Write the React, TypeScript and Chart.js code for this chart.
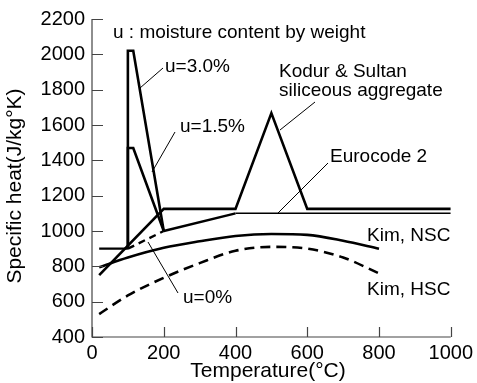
import React, { useEffect, useRef } from "react";
import { Chart, registerables } from "chart.js";

Chart.register(...registerables);

const FONT = '"Liberation Sans", Arial, Helvetica, sans-serif';

// Eurocode 2 (u = 0%)
const eurocodeT = [20, 100, 200, 400, 1000];
const eurocodeCp = [900, 900, 1000, 1100, 1100];
// Eurocode 2 moisture peaks
const u15T = [100, 100, 115, 200];
const u15Cp = [900, 1470, 1470, 1000];
const u30T = [100, 100, 115, 200];
const u30Cp = [900, 2020, 2020, 1000];
// Kodur & Sultan, siliceous aggregate
const kodurT = [20, 200, 400, 500, 600, 1000];
const kodurCp = [750, 1125, 1125, 1667, 1125, 1125];
// Kim
const kimT = [20, 100, 200, 300, 400, 500, 600, 700, 800];
const kimNSC = [795, 850, 905, 942, 972, 983, 978, 945, 900];
const kimHSC = [530, 635, 735, 818, 888, 910, 900, 850, 760];

const xTicks = [0, 200, 400, 600, 800, 1000];
const yTicks = [400, 600, 800, 1000, 1200, 1400, 1600, 1800, 2000, 2200];

const toPts = (xs: number[], ys: number[]) => xs.map((x, i) => ({ x, y: ys[i] }));

const annotations = [
  { text: "u : moisture content by weight", x: 113, y: 38 },
  { text: "u=3.0%", x: 165, y: 72 },
  { text: "u=1.5%", x: 180, y: 132 },
  { text: "Kodur & Sultan", x: 279, y: 77 },
  { text: "siliceous aggregate", x: 279, y: 96 },
  { text: "Eurocode 2", x: 330, y: 162 },
  { text: "Kim, NSC", x: 367, y: 241 },
  { text: "Kim, HSC", x: 367, y: 295 },
  { text: "u=0%", x: 183, y: 303 },
];

const leaders = [
  [163, 68, 140, 88],
  [175, 132, 152, 172],
  [315, 102, 280, 130],
  [328, 163, 278, 213],
  [178, 293, 148, 242],
];

const decoPlugin = {
  id: "deco",
  afterDraw(chart: any) {
    const ctx = chart.ctx;
    const xs = chart.scales.x;
    const ys = chart.scales.y;
    const { left, right, top, bottom } = chart.chartArea;
    ctx.save();
    // axes
    ctx.strokeStyle = "#444";
    ctx.lineWidth = 1.2;
    ctx.beginPath();
    ctx.moveTo(left, top);
    ctx.lineTo(left, bottom);
    ctx.lineTo(right, bottom);
    ctx.stroke();
    ctx.beginPath();
    yTicks.forEach((v) => {
      const y = Math.round(ys.getPixelForValue(v)) + 0.5;
      ctx.moveTo(left, y);
      ctx.lineTo(left + 11, y);
    });
    xTicks.forEach((v) => {
      const x = Math.round(xs.getPixelForValue(v)) + 0.5;
      ctx.moveTo(x, bottom);
      ctx.lineTo(x, bottom - 10);
    });
    ctx.stroke();

    // leader lines
    ctx.strokeStyle = "#000";
    ctx.lineWidth = 1;
    ctx.beginPath();
    leaders.forEach(([x1, y1, x2, y2]) => {
      ctx.moveTo(x1, y1);
      ctx.lineTo(x2, y2);
    });
    ctx.stroke();

    // annotations
    ctx.fillStyle = "#000";
    ctx.font = `19px ${FONT}`;
    ctx.textAlign = "left";
    ctx.textBaseline = "alphabetic";
    annotations.forEach((a) => ctx.fillText(a.text, a.x, a.y));

    // axis titles
    ctx.font = `21px ${FONT}`;
    ctx.textAlign = "center";
    ctx.textBaseline = "middle";
    ctx.fillText("Temperature(\u00B0C)", 268, 371);
    ctx.save();
    ctx.translate(15, 186);
    ctx.rotate(-Math.PI / 2);
    ctx.fillText("Specific heat(J/kg\u00B0K)", 0, 0);
    ctx.restore();
    ctx.restore();
  },
};

export default function App() {
  const ref = useRef<HTMLCanvasElement | null>(null);
  useEffect(() => {
    if (!ref.current) return;
    const base = { borderColor: "#000", pointRadius: 0, fill: false, tension: 0 };
    const chart = new Chart(ref.current, {
      type: "line",
      data: {
        datasets: [
          {
            ...base,
            label: "Kim, HSC",
            data: toPts(kimT, kimHSC),
            borderWidth: 2.6,
            borderDash: [10, 6],
            tension: 0.4,
            cubicInterpolationMode: "monotone",
          },
          {
            ...base,
            label: "Kim, NSC",
            data: toPts(kimT, kimNSC),
            borderWidth: 2.6,
            tension: 0.4,
            cubicInterpolationMode: "monotone",
          },
          {
            ...base,
            label: "Eurocode 2",
            data: toPts(eurocodeT, eurocodeCp),
            borderWidth: 2.4,
            segment: {
              borderDash: (c: any) => (c.p0DataIndex === 1 ? [7, 5] : undefined),
              borderWidth: (c: any) => (c.p0DataIndex >= 3 ? 1.5 : 2.4),
            },
          },
          {
            ...base,
            label: "u=1.5%",
            data: toPts(u15T, u15Cp),
            borderWidth: 2.6,
          },
          {
            ...base,
            label: "u=3.0%",
            data: toPts(u30T, u30Cp),
            borderWidth: 2.6,
          },
          {
            ...base,
            label: "Kodur & Sultan",
            data: toPts(kodurT, kodurCp),
            borderWidth: 2.6,
          },
        ],
      },
      options: {
        animation: false,
        responsive: false,
        devicePixelRatio: 1,
        layout: { padding: { top: 18, right: 24, left: 0, bottom: 0 } },
        plugins: { legend: { display: false }, tooltip: { enabled: false } },
        scales: {
          x: {
            type: "linear",
            min: 0,
            max: 1000,
            afterBuildTicks: (s: any) => {
              s.ticks = xTicks.map((v) => ({ value: v }));
            },
            grid: { display: false, drawTicks: false },
            border: { display: false },
            ticks: {
              color: "#000",
              font: { family: FONT, size: 20 },
              padding: 4,
              maxRotation: 0,
              autoSkip: false,
              callback: (v: any) => String(v),
            },
            afterFit: (s: any) => {
              s.height = 46;
            },
          },
          y: {
            type: "linear",
            min: 400,
            max: 2200,
            afterBuildTicks: (s: any) => {
              s.ticks = yTicks.map((v) => ({ value: v }));
            },
            grid: { display: false, drawTicks: false },
            border: { display: false },
            ticks: {
              color: "#000",
              font: { family: FONT, size: 20 },
              padding: 7,
              autoSkip: false,
              callback: (v: any) => String(v),
            },
            afterFit: (s: any) => {
              s.width = 92;
            },
          },
        },
      },
      plugins: [decoPlugin],
    } as any);
    return () => chart.destroy();
  }, []);
  return (
    <div style={{ position: "absolute", left: 0, top: 0, width: 477, height: 383, background: "#fff" }}>
      <canvas ref={ref} width={477} height={383} style={{ display: "block" }} />
    </div>
  );
}
